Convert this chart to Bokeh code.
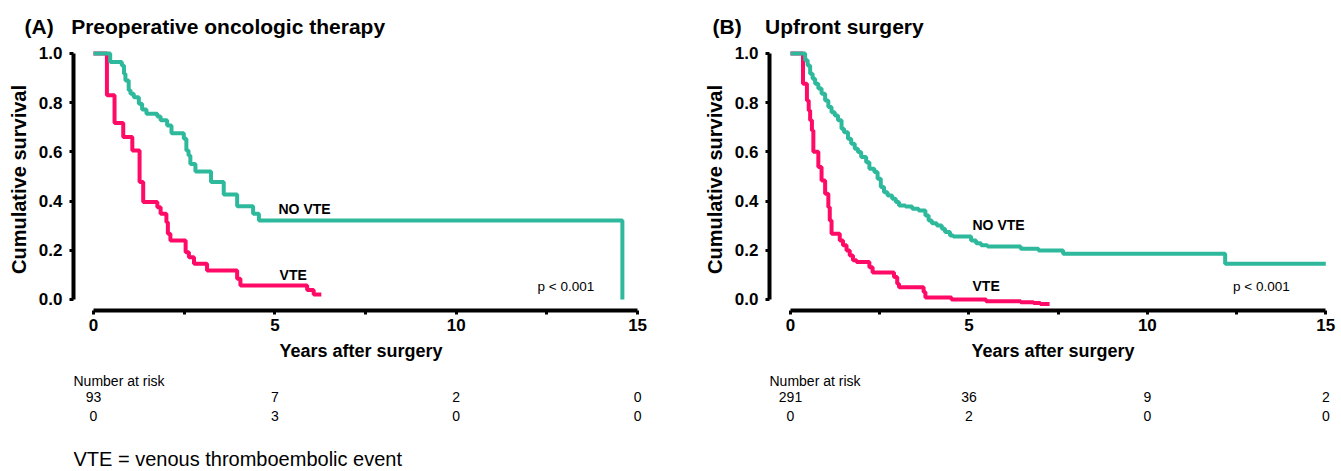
from bokeh.plotting import figure
from bokeh.models import Range1d, FixedTicker, Label
from bokeh.layouts import row, column
from bokeh.core.properties import value
from bokeh.embed import file_html
from bokeh.resources import INLINE

# ---------------- data ----------------
# Panel A: preoperative oncologic therapy (Kaplan-Meier step points: time, survival)
a_novte_t = [0, 0.46, 0.78, 0.84, 0.88, 0.97, 1.02, 1.11, 1.25, 1.34, 1.46, 1.76, 1.85, 2.03, 2.15,
             2.49, 2.56, 2.62, 2.67, 2.81, 3.24, 3.59, 3.96, 4.40, 4.56, 14.58]
a_novte_s = [1.0, 0.965, 0.951, 0.917, 0.890, 0.850, 0.836, 0.822, 0.795, 0.772, 0.755, 0.744, 0.728,
             0.707, 0.676, 0.653, 0.606, 0.585, 0.551, 0.520, 0.477, 0.427, 0.379, 0.348, 0.321, 0.0]
a_vte_t = [0, 0.37, 0.58, 0.82, 1.07, 1.27, 1.37, 1.76, 1.85, 2.01, 2.05, 2.12, 2.54, 2.63, 2.77,
           3.13, 3.96, 4.05, 5.89, 6.07, 6.28]
a_vte_s = [1.0, 0.830, 0.717, 0.660, 0.606, 0.477, 0.396, 0.375, 0.348, 0.314, 0.267, 0.240, 0.192,
           0.172, 0.145, 0.118, 0.084, 0.057, 0.039, 0.020, 0.020]

# Panel B: upfront surgery
b_novte_t = [0, 0.41, 0.48, 0.55, 0.62, 0.69, 0.78, 0.87, 0.97, 1.06, 1.15, 1.24, 1.33, 1.43, 1.50,
             1.61, 1.70, 1.80, 1.89, 1.98, 2.12, 2.21, 2.35, 2.44, 2.53, 2.62, 2.72, 2.85, 2.95, 3.04,
             3.22, 3.41, 3.59, 3.78, 3.87, 3.96, 4.10, 4.24, 4.33, 4.47, 4.56, 5.06, 5.20, 5.34, 5.52,
             6.45, 6.95, 7.64, 12.18, 15.0]
b_novte_s = [1.0, 0.972, 0.951, 0.917, 0.897, 0.877, 0.857, 0.836, 0.809, 0.782, 0.761, 0.748, 0.728,
             0.694, 0.680, 0.653, 0.633, 0.613, 0.599, 0.579, 0.558, 0.531, 0.518, 0.491, 0.457, 0.436,
             0.423, 0.409, 0.396, 0.382, 0.378, 0.369, 0.362, 0.341, 0.321, 0.310, 0.301, 0.287, 0.274,
             0.260, 0.256, 0.240, 0.229, 0.220, 0.215, 0.206, 0.199, 0.186, 0.145, 0.145]
b_vte_t = [0, 0.35, 0.46, 0.51, 0.55, 0.60, 0.64, 0.78, 0.87, 0.97, 1.06, 1.10, 1.15, 1.38, 1.47, 1.57,
           1.66, 1.75, 1.85, 2.21, 2.30, 2.90, 2.99, 3.04, 3.73, 3.78, 4.51, 5.48, 6.45, 6.81, 7.00, 7.26]
b_vte_s = [1.0, 0.877, 0.809, 0.768, 0.728, 0.687, 0.600, 0.538, 0.484, 0.430, 0.375, 0.321, 0.267,
           0.240, 0.220, 0.199, 0.179, 0.159, 0.152, 0.131, 0.110, 0.091, 0.064, 0.050, 0.030, 0.008,
           0.0, -0.007, -0.011, -0.014, -0.018, -0.018]

x_ticks = [0, 5, 10, 15]
x_minor_ticks = [2.5, 7.5, 12.5]
x_tick_labels = ["0", "5", "10", "15"]
y_ticks = [0.0, 0.2, 0.4, 0.6, 0.8, 1.0]
y_tick_labels = ["0.0", "0.2", "0.4", "0.6", "0.8", "1.0"]

risk_times = [0, 5, 10, 15]
a_risk_novte = [93, 7, 2, 0]
a_risk_vte = [0, 3, 0, 0]
b_risk_novte = [291, 36, 9, 2]
b_risk_vte = [0, 2, 0, 0]

panel_tags = ["(A)", "(B)"]
panel_titles = ["Preoperative oncologic therapy", "Upfront surgery"]
curve_names = ["NO VTE", "VTE"]
p_text = "p < 0.001"
risk_heading = "Number at risk"
footnote = "VTE = venous thromboembolic event"

# ---------------- style / layout ----------------
TEAL = "#2EB99C"
PINK = "#FF0A66"
FONT = "Liberation Sans"
PLOT_H = 370
TABLE_H = 100
TOP = 48
PX_PER_Y = 246.0
Y_START = -11 / PX_PER_Y
Y_END = 1.02
X_END = 15.3
NBSP = "\u00a0"


def lab(p, x, y, text, size, bold=False):
    p.add_layout(Label(x=x, y=y, text=text, text_font=FONT, text_font_size=size,
                       text_font_style="bold" if bold else "normal", text_color="black",
                       text_align="left", text_baseline="middle"))


def make_panel(width, left, x0_px, x15_px, t_no, s_no, t_v, s_v, tag, title, gap, title_offset,
               risk_no, risk_v, novte_xy, vte_xy, p_xy, foot=False):
    ppx = (x15_px - x0_px) / 15.0
    x_start = -(x0_px - left) / ppx
    frame_w = round((X_END - x_start) * ppx)
    right = width - left - frame_w
    xr = Range1d(x_start, X_END)
    frame_h = round((Y_END - Y_START) * PX_PER_Y)

    p = figure(width=width, height=PLOT_H, x_range=xr, y_range=Range1d(Y_START, Y_END),
               output_backend="svg", toolbar_location=None,
               min_border_left=left, min_border_right=right,
               min_border_top=TOP, min_border_bottom=PLOT_H - TOP - frame_h)
    p.xgrid.visible = False
    p.ygrid.visible = False
    p.outline_line_color = None

    p.title.text = tag + NBSP * gap + title
    p.title.text_font = FONT
    p.title.text_font_size = "21px"
    p.title.text_font_style = "bold"
    p.title.text_color = "black"
    p.title.align = "left"
    p.title.offset = title_offset
    p.title.standoff = 22

    for ax in (p.xaxis[0], p.yaxis[0]):
        ax.axis_line_width = 4
        ax.axis_line_color = "black"
        ax.major_tick_line_width = 3
        ax.major_tick_in = 0
        ax.major_tick_out = 4
        ax.minor_tick_line_width = 3
        ax.minor_tick_in = 0
        ax.minor_tick_out = 4
        ax.major_label_text_font = FONT
        ax.major_label_text_font_style = "bold"
        ax.major_label_text_font_size = "17px"
        ax.major_label_text_color = "black"
        ax.axis_label_text_font = FONT
        ax.axis_label_text_font_style = "bold"
        ax.axis_label_text_color = "black"

    xa = p.xaxis[0]
    xa.bounds = (x_ticks[0], x_ticks[-1])
    xa.ticker = FixedTicker(ticks=x_ticks, minor_ticks=x_minor_ticks)
    xa.major_label_overrides = {t: l for t, l in zip(x_ticks, x_tick_labels)}
    xa.major_label_standoff = 4
    xa.axis_label = "Years after surgery"
    xa.axis_label_text_font_size = "18px"
    xa.axis_label_standoff = 7

    ya = p.yaxis[0]
    ya.bounds = (y_ticks[0], y_ticks[-1])
    ya.ticker = FixedTicker(ticks=y_ticks, minor_ticks=[])
    ya.major_label_overrides = {t: l for t, l in zip(y_ticks, y_tick_labels)}
    ya.major_label_standoff = 7
    ya.axis_label = "Cumulative survival"
    ya.axis_label_text_font_size = "20px"
    ya.axis_label_standoff = 6

    p.step(t_v, s_v, mode="after", line_width=4, line_color=PINK)
    p.step(t_no, s_no, mode="after", line_width=4, line_color=TEAL)

    lab(p, novte_xy[0], novte_xy[1], curve_names[0], "14px", bold=True)
    lab(p, vte_xy[0], vte_xy[1], curve_names[1], "14px", bold=True)
    lab(p, p_xy[0], p_xy[1], p_text, "13.5px")

    # number-at-risk table (own strip, sharing the x scale of the plot)
    t = figure(width=width, height=TABLE_H, x_range=xr, y_range=Range1d(TABLE_H, 0),
               output_backend="svg", toolbar_location=None,
               x_axis_location=None, y_axis_location=None,
               min_border_left=left, min_border_right=right, min_border_top=0, min_border_bottom=0)
    t.xgrid.visible = False
    t.ygrid.visible = False
    t.outline_line_color = None
    common = dict(text_font=value(FONT), text_baseline="middle", text_color="black")
    t.text(x=[x_start], y=[10], text=[risk_heading], text_align="left",
           text_font_size=value("14px"), **common)
    t.text(x=risk_times, y=[26] * len(risk_times), text=[str(v) for v in risk_no],
           text_align="center", text_font_size=value("14px"), **common)
    t.text(x=risk_times, y=[45] * len(risk_times), text=[str(v) for v in risk_v],
           text_align="center", text_font_size=value("14px"), **common)
    if foot:
        t.text(x=[x_start], y=[88], text=[footnote], text_align="left",
               text_font_size=value("20px"), **common)
    return column(p, t)


colA = make_panel(697, 73, 93, 637, a_novte_t, a_novte_s, a_vte_t, a_vte_s,
                  panel_tags[0], panel_titles[0], 3, -49,
                  a_risk_novte, a_risk_vte, novte_xy=(5.1, 0.366), vte_xy=(5.13, 0.098),
                  p_xy=(12.24, 0.053), foot=True)
colB = make_panel(643, 72, 93, 628, b_novte_t, b_novte_s, b_vte_t, b_vte_s,
                  panel_tags[1], panel_titles[1], 4, -57,
                  b_risk_novte, b_risk_vte, novte_xy=(5.1, 0.301), vte_xy=(5.1, 0.053),
                  p_xy=(12.4, 0.053))

layout = row(colA, colB)
open("out.html", "w").write(file_html(layout, INLINE))
